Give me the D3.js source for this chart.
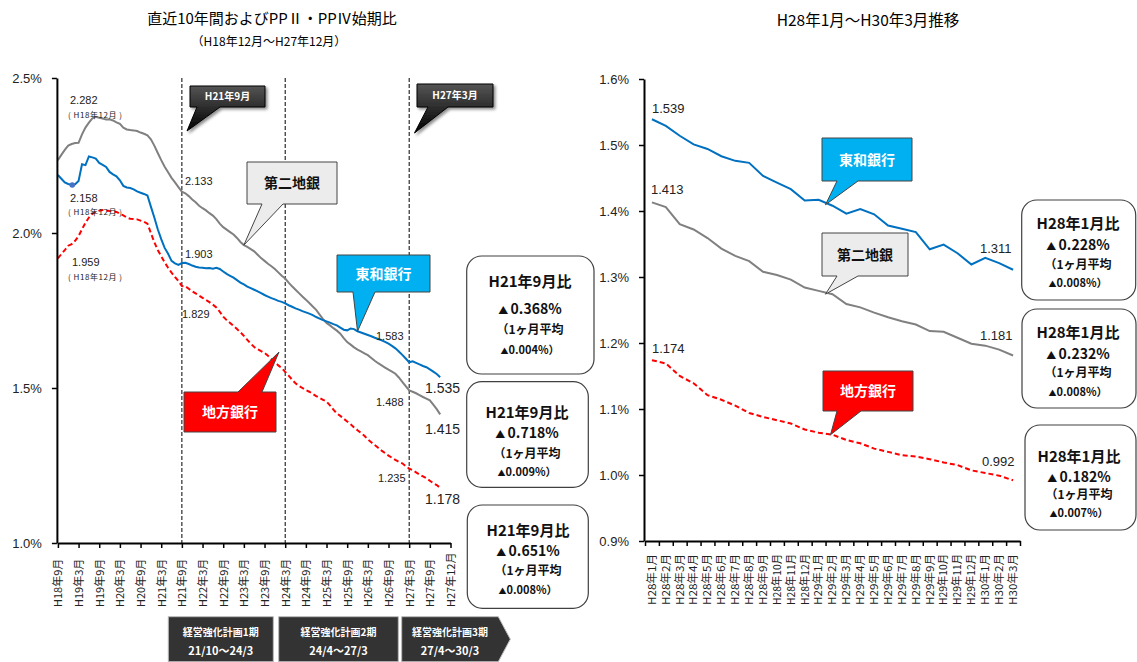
<!DOCTYPE html>
<html>
<head>
<meta charset="utf-8">
<script src="https://cdn.jsdelivr.net/npm/d3@7"></script>
<style>
  body { margin: 0; background: #fff; }
  svg { font-family: "Liberation Sans", Arial, "Noto Sans CJK JP", sans-serif; }
  .jp { font-family: "Noto Sans CJK JP", sans-serif; }
</style>
</head>
<body>
<svg id="chart" width="1137" height="662"></svg>
<script>
// ---- data ----
const leftTicks = ["H18年9月","H19年3月","H19年9月","H20年3月","H20年9月","H21年3月","H21年9月",
  "H22年3月","H22年9月","H23年3月","H23年9月","H24年3月","H24年9月","H25年3月","H25年9月",
  "H26年3月","H26年9月","H27年3月","H27年9月","H27年12月"];

// monthly, H18年9月 .. H27年12月
const lGrey = [2.235,2.252,2.268,2.282,2.287,2.290,2.291,2.318,2.340,2.356,
  2.370,2.375,2.372,2.369,2.366,2.367,2.363,2.357,2.352,2.340,
  2.334,2.332,2.331,2.329,2.324,2.320,2.315,2.302,2.282,2.258,
  2.235,2.214,2.196,2.178,2.163,2.148,2.133,2.128,2.119,2.108,
  2.099,2.088,2.080,2.073,2.064,2.056,2.045,2.030,2.019,2.011,
  2.003,1.995,1.984,1.971,1.961,1.955,1.948,1.941,1.930,1.919,
  1.910,1.901,1.893,1.884,1.873,1.862,1.853,1.840,1.828,1.817,
  1.806,1.795,1.785,1.774,1.763,1.752,1.737,1.722,1.710,1.702,
  1.693,1.685,1.675,1.661,1.648,1.640,1.631,1.624,1.618,1.612,
  1.606,1.597,1.588,1.580,1.573,1.566,1.559,1.553,1.546,1.534,
  1.520,1.506,1.492,1.488,1.483,1.477,1.471,1.466,1.460,1.446,
  1.432,1.415];
const lBlue = [2.187,2.175,2.163,2.158,2.155,2.157,2.168,2.222,2.219,2.247,
  2.244,2.240,2.226,2.220,2.213,2.197,2.189,2.183,2.170,2.152,
  2.147,2.145,2.141,2.134,2.130,2.126,2.121,2.085,2.050,2.012,
  1.980,1.952,1.933,1.910,1.902,1.897,1.903,1.904,1.900,1.895,
  1.891,1.889,1.888,1.886,1.887,1.885,1.888,1.884,1.876,1.868,
  1.862,1.856,1.848,1.840,1.834,1.827,1.822,1.817,1.812,1.806,
  1.800,1.795,1.790,1.786,1.781,1.778,1.773,1.767,1.762,1.757,
  1.753,1.748,1.744,1.740,1.735,1.729,1.724,1.719,1.715,1.711,
  1.706,1.702,1.695,1.688,1.686,1.692,1.690,1.683,1.679,1.675,
  1.671,1.667,1.662,1.658,1.654,1.649,1.643,1.636,1.628,1.618,
  1.607,1.595,1.583,1.586,1.581,1.576,1.571,1.567,1.560,1.553,
  1.545,1.535];
const lRed = [1.918,1.932,1.945,1.959,1.964,1.975,1.990,2.012,2.033,2.050,
  2.062,2.069,2.072,2.074,2.073,2.071,2.070,2.068,2.062,2.057,
  2.050,2.046,2.045,2.044,2.040,2.036,2.030,2.000,1.970,1.945,
  1.925,1.905,1.888,1.872,1.858,1.845,1.829,1.828,1.820,1.812,
  1.805,1.798,1.791,1.784,1.777,1.769,1.760,1.746,1.730,1.719,
  1.710,1.700,1.690,1.680,1.668,1.655,1.643,1.632,1.625,1.619,
  1.613,1.604,1.593,1.583,1.573,1.564,1.552,1.540,1.527,1.515,
  1.507,1.500,1.493,1.488,1.481,1.474,1.468,1.462,1.456,1.444,
  1.430,1.418,1.410,1.401,1.392,1.383,1.373,1.364,1.355,1.346,
  1.334,1.325,1.316,1.307,1.298,1.290,1.282,1.275,1.268,1.262,
  1.257,1.248,1.240,1.235,1.228,1.221,1.215,1.209,1.201,1.193,
  1.187,1.178];

const rightTicks = ["H28年1月","H28年2月","H28年3月","H28年4月","H28年5月","H28年6月","H28年7月",
  "H28年8月","H28年9月","H28年10月","H28年11月","H28年12月","H29年1月","H29年2月","H29年3月",
  "H29年4月","H29年5月","H29年6月","H29年7月","H29年8月","H29年9月","H29年10月","H29年11月",
  "H29年12月","H30年1月","H30年2月","H30年3月"];
const rBlue = [1.539,1.529,1.514,1.501,1.494,1.483,1.476,1.473,1.453,1.443,1.433,1.416,1.417,1.408,
  1.396,1.403,1.395,1.378,1.373,1.368,1.342,1.349,1.336,1.319,1.329,1.321,1.311];
const rGrey = [1.413,1.406,1.380,1.372,1.359,1.343,1.332,1.324,1.308,1.303,1.296,1.284,1.279,1.274,
  1.259,1.254,1.246,1.239,1.233,1.228,1.218,1.217,1.208,1.199,1.196,1.190,1.181];
const rRed = [1.174,1.169,1.150,1.139,1.121,1.114,1.105,1.094,1.088,1.083,1.078,1.069,1.064,1.061,
  1.053,1.048,1.040,1.035,1.030,1.028,1.024,1.019,1.015,1.007,1.003,0.999,0.992];

// boxes: order 東和, 第二地銀, 地方
const leftHead = "H21年9月比";
const leftDiff = ["0.368", "0.718", "0.651"];
const leftAvg = ["0.004", "0.009", "0.008"];
const rightHead = "H28年1月比";
const rightDiff = ["0.228", "0.232", "0.182"];
const rightAvg = ["0.008", "0.008", "0.007"];

const periods = [["経営強化計画1期", "21/10〜24/3"], ["経営強化計画2期", "24/4〜27/3"], ["経営強化計画3期", "27/4〜30/3"]];

const BLUE = "#0070c0", GREY = "#808080", RED = "#ff0000";

const svg = d3.select("#chart");

// defs
const defs = svg.append("defs");
const grad = defs.append("linearGradient").attr("id", "blk").attr("x1", 0).attr("y1", 0).attr("x2", 0).attr("y2", 1);
grad.append("stop").attr("offset", "0%").attr("stop-color", "#555");
grad.append("stop").attr("offset", "100%").attr("stop-color", "#000");
defs.append("filter").attr("id", "shadow").attr("x", "-20%").attr("y", "-20%").attr("width", "150%").attr("height", "150%")
  .append("feDropShadow").attr("dx", 2).attr("dy", 2).attr("stdDeviation", 1.5).attr("flood-opacity", 0.45);

// ---- titles ----
svg.append("text").attr("class", "jp").attr("x", 272).attr("y", 24).attr("text-anchor", "middle")
  .attr("font-size", 15).text("直近10年間およびPPⅡ・PPⅣ始期比");
svg.append("text").attr("class", "jp").attr("x", 269).attr("y", 46).attr("text-anchor", "middle")
  .attr("font-size", 12).text("（H18年12月〜H27年12月）");
svg.append("text").attr("class", "jp").attr("x", 868).attr("y", 26).attr("text-anchor", "middle")
  .attr("font-size", 15.5).text("H28年1月〜H30年3月推移");

// ---- callout helper ----
function callout(g, b, side, base, tip, fill, stroke, label, color, size, extra) {
  const [x0, y0, x1, y1] = b;
  let p;
  if (side === "bottom") {
    p = `M${x0},${y0}L${x1},${y0}L${x1},${y1}L${base[1]},${y1}L${tip[0]},${tip[1]}L${base[0]},${y1}L${x0},${y1}Z`;
  } else {
    p = `M${x0},${y0}L${base[0]},${y0}L${tip[0]},${tip[1]}L${base[1]},${y0}L${x1},${y0}L${x1},${y1}L${x0},${y1}Z`;
  }
  const path = g.append("path").attr("d", p).attr("fill", fill).attr("stroke", stroke).attr("stroke-width", 1);
  if (extra) path.attr("filter", "url(#shadow)");
  g.append("text").attr("class", "jp").attr("x", (x0 + x1) / 2).attr("y", (y0 + y1) / 2 + size * 0.36)
    .attr("text-anchor", "middle").attr("font-size", size).attr("font-weight", 700)
    .attr("fill", color).text(label);
}

function infoBox(g, r, cx, head, diff, avg, ys) {
  g.append("rect").attr("x", r[0]).attr("y", r[1]).attr("width", r[2]).attr("height", r[3])
    .attr("rx", 15).attr("fill", "#fff").attr("stroke", "#404040").attr("stroke-width", 1.2);
  const t = g.append("g").attr("class", "jp").attr("font-weight", 700).attr("text-anchor", "middle").attr("fill", "#111");
  t.append("text").attr("x", cx).attr("y", r[1] + ys[0]).attr("font-size", 15).text(head);
  const l2 = t.append("text").attr("x", cx).attr("y", r[1] + ys[1]).attr("font-size", 14);
  l2.append("tspan").attr("font-size", 10).text("▲ ");
  l2.append("tspan").text(diff + "%");
  t.append("text").attr("x", cx).attr("y", r[1] + ys[2]).attr("font-size", 12).text("（1ヶ月平均");
  const l4 = t.append("text").attr("x", cx).attr("y", r[1] + ys[3]).attr("font-size", 11);
  l4.append("tspan").attr("font-size", 8).text("▲");
  l4.append("tspan").text(avg + "%）");
}

// =========== LEFT CHART ===========
const xL = d3.scaleLinear().domain([0, 114]).range([57.9, 450.5]);
const yL = d3.scaleLinear().domain([1.0, 2.5]).range([543, 78]);
const left = svg.append("g");

// period dashed lines (H21年9月, H24年3月, H27年3月)
[36, 66, 102].forEach(m => {
  left.append("line").attr("x1", xL(m)).attr("x2", xL(m)).attr("y1", yL(2.5)).attr("y2", yL(1.0))
    .attr("stroke", "#000").attr("stroke-width", 1).attr("stroke-dasharray", "4,2");
});

const lineL = d3.line().x((d, i) => xL(i)).y(d => yL(d));
left.append("path").datum(lGrey).attr("d", lineL).attr("fill", "none").attr("stroke", GREY).attr("stroke-width", 2);
left.append("path").datum(lBlue).attr("d", lineL).attr("fill", "none").attr("stroke", BLUE).attr("stroke-width", 2);
left.append("path").datum(lRed).attr("d", lineL).attr("fill", "none").attr("stroke", RED).attr("stroke-width", 2)
  .attr("stroke-dasharray", "5,3");
left.append("circle").attr("cx", xL(3) + 4).attr("cy", yL(lBlue[3]) + 1).attr("r", 2.8).attr("fill", "#4472c4");

// axes
const yAxisL = left.append("g").attr("transform", `translate(${xL(0) - 1},0)`)
  .call(d3.axisLeft(yL).tickValues([1.0, 1.5, 2.0, 2.5]).tickFormat(d => d.toFixed(1) + "%")
    .tickSize(5).tickSizeOuter(0).tickPadding(10));
const xAxisL = left.append("g").attr("transform", `translate(0,${yL(1.0)})`)
  .call(d3.axisBottom(xL).tickValues(d3.range(0, 115, 6)).tickFormat((d, i) => leftTicks[i])
    .tickSize(5).tickSizeOuter(0));
xAxisL.selectAll("text").attr("transform", "rotate(-90)").attr("x", -64).attr("y", 0).attr("dy", "0.35em")
  .attr("text-anchor", "start").attr("font-size", 11).attr("class", "jp");

// value labels
const small = (x, y, t, s) => left.append("text").attr("x", x).attr("y", y).attr("font-size", s || 11).attr("fill", "#222").text(t);
small(70, 104, "2.282");
small(68, 118, "( H18年12月 )", 8).attr("class", "jp").attr("textLength", 54);
small(70, 202, "2.158");
small(68, 215, "( H18年12月 )", 8).attr("class", "jp").attr("textLength", 54);
small(72, 266, "1.959");
small(68, 280, "( H18年12月 )", 8).attr("class", "jp").attr("textLength", 54);
small(185, 185, "2.133");
small(185, 258, "1.903");
small(182, 318, "1.829");
small(376, 340, "1.583");
small(376, 406, "1.488");
small(378, 482, "1.235");
small(425, 393, "1.535", 14);
small(425, 434, "1.415", 14);
small(425, 504, "1.178", 14);

// callouts
callout(left, [190, 86, 265, 107], "bottom", [197, 220], [187, 131], "url(#blk)", "#000", "H21年9月", "#fff", 10, true);
callout(left, [417, 84, 493, 107], "bottom", [428, 448], [414.5, 133], "url(#blk)", "#000", "H27年3月", "#fff", 10, true);
callout(left, [247, 162, 337, 204], "bottom", [262, 283], [xL(54), yL(lGrey[54])], "#ececec", "#444", "第二地銀", "#111", 14);
callout(left, [337, 255, 430, 292], "bottom", [353, 375], [xL(87), yL(lBlue[87])], "#00b0f0", "#444", "東和銀行", "#fff", 14);
callout(left, [184, 392, 276, 432], "top", [238, 262], [279, 352], "#ff0000", "#444", "地方銀行", "#fff", 14);

// info boxes
infoBox(left, [466.7, 256, 127.3, 118], 530, leftHead, leftDiff[0], leftAvg[0], [31, 58, 78, 98]);
infoBox(left, [466.7, 381.7, 121.6, 105.6], 527, leftHead, leftDiff[1], leftAvg[1], [36, 56, 76, 94]);
infoBox(left, [467.3, 505, 121, 103.3], 528, leftHead, leftDiff[2], leftAvg[2], [31, 51, 70, 89]);

// period boxes
const pb = [[168.3, 616.7, 273.3, 661.7], [278.7, 616.7, 398.3, 661.7], [401.7, 616.7, 498.3, 661.7]];
pb.forEach((b, i) => {
  const [x0, y0, x1, y1] = b;
  const d = i < 2 ? `M${x0},${y0}H${x1}V${y1}H${x0}Z`
    : `M${x0},${y0}H${x1}L${x1 + 12},${(y0 + y1) / 2}L${x1},${y1}H${x0}Z`;
  svg.append("path").attr("d", d).attr("fill", "#333").attr("stroke", "#bbb").attr("stroke-width", 1);
  const cx = (x0 + x1) / 2;
  svg.append("text").attr("class", "jp").attr("x", cx).attr("y", y0 + 19).attr("text-anchor", "middle")
    .attr("font-size", 10).attr("font-weight", 700).attr("fill", "#fff").text(periods[i][0]);
  svg.append("text").attr("class", "jp").attr("x", cx).attr("y", y0 + 38).attr("text-anchor", "middle")
    .attr("font-size", 11).attr("font-weight", 700).attr("fill", "#fff").text(periods[i][1]);
});

// =========== RIGHT CHART ===========
const xR = d3.scaleBand().domain(rightTicks).range([645, 1020]);
const cx = d => xR(d) + xR.bandwidth() / 2;
const yR = d3.scaleLinear().domain([0.9, 1.6]).range([541, 79]);
const right = svg.append("g");

const lineR = d3.line().x((d, i) => cx(rightTicks[i])).y(d => yR(d));
right.append("path").datum(rGrey).attr("d", lineR).attr("fill", "none").attr("stroke", GREY).attr("stroke-width", 2);
right.append("path").datum(rBlue).attr("d", lineR).attr("fill", "none").attr("stroke", BLUE).attr("stroke-width", 2);
right.append("path").datum(rRed).attr("d", lineR).attr("fill", "none").attr("stroke", RED).attr("stroke-width", 2)
  .attr("stroke-dasharray", "5,3");

const yAxisR = right.append("g").attr("transform", `translate(${xR.range()[0] - 1},0)`)
  .call(d3.axisLeft(yR).tickValues(d3.range(0.9, 1.61, 0.1)).tickFormat(d => d.toFixed(1) + "%")
    .tickSize(5).tickSizeOuter(0).tickPadding(10));
// boundary ticks
const xRb = d3.scaleLinear().domain([0, rightTicks.length]).range(xR.range());
right.append("g").attr("transform", `translate(0,${yR(0.9)})`)
  .call(d3.axisBottom(xRb).tickValues(d3.range(0, rightTicks.length + 1)).tickFormat("").tickSize(5).tickSizeOuter(0));
const xAxisR = right.append("g").attr("transform", `translate(0,${yR(0.9)})`)
  .call(d3.axisBottom(xR).tickSize(0));
xAxisR.select(".domain").remove();
xAxisR.selectAll("text").attr("transform", "rotate(-90)").attr("x", -64).attr("y", 0).attr("dy", "0.35em")
  .attr("text-anchor", "start").attr("font-size", 11).attr("class", "jp")
  .attr("textLength", 51).attr("lengthAdjust", "spacingAndGlyphs");

// axis styling (both)
svg.selectAll(".domain").attr("stroke", "#000").attr("stroke-width", 2);
svg.selectAll(".tick line").attr("stroke", "#000").attr("stroke-width", 1.5);
svg.selectAll(".tick text").attr("fill", "#222");
yAxisL.selectAll("text").attr("font-size", 13);
yAxisR.selectAll("text").attr("font-size", 13);

const rlab = (x, y, t) => right.append("text").attr("x", x).attr("y", y).attr("font-size", 13).attr("fill", "#222").text(t);
rlab(652, 113, "1.539");
rlab(651, 194, "1.413");
rlab(652, 353, "1.174");
rlab(980, 253, "1.311");
rlab(980, 340, "1.181");
rlab(982, 466, "0.992");

callout(right, [822, 138, 912, 181], "bottom", [837, 858], [cx(rightTicks[13]) - 7, yR(rBlue[13]) - 1], "#00b0f0", "#444", "東和銀行", "#fff", 14);
callout(right, [822, 233, 908, 276], "bottom", [837, 858], [cx(rightTicks[13]) - 7, yR(rGrey[13])], "#ececec", "#444", "第二地銀", "#111", 14);
callout(right, [823, 371, 913, 411], "bottom", [837, 861], [cx(rightTicks[13]) - 2, yR(rRed[13])], "#ff0000", "#444", "地方銀行", "#fff", 14);

infoBox(right, [1021.7, 200, 114, 100], 1078, rightHead, rightDiff[0], rightAvg[0], [29, 50, 69, 87]);
infoBox(right, [1022, 309, 114, 99], 1078, rightHead, rightDiff[1], rightAvg[1], [29, 50, 68, 87]);
infoBox(right, [1025, 425, 111, 105], 1079, rightHead, rightDiff[2], rightAvg[2], [37, 57, 74, 92]);
</script>
</body>
</html>
